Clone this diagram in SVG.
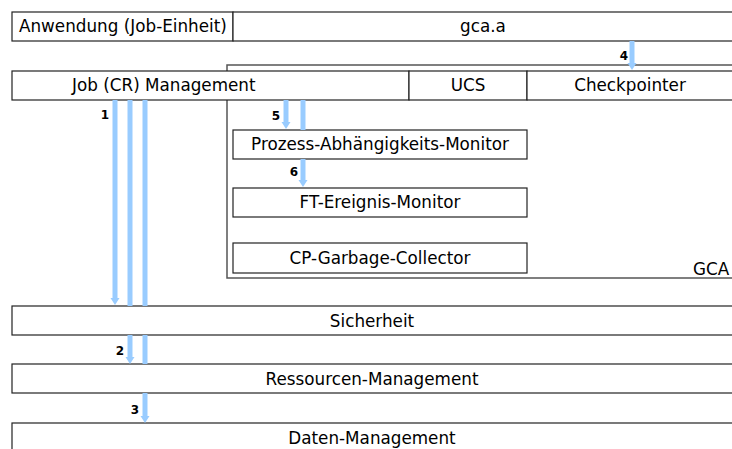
<svg xmlns="http://www.w3.org/2000/svg" width="732" height="449" viewBox="0 0 732 449">
<defs>
<style>
.box{fill:#fff;stroke:#222;stroke-width:1.2}
.gca{fill:none;stroke:#555;stroke-width:1.5}
.t{font-family:"DejaVu Sans",sans-serif;font-size:16.8px;fill:#000}
.c{text-anchor:middle}
.n{font-family:"DejaVu Sans",sans-serif;font-size:12px;font-weight:bold;fill:#000;text-anchor:middle}
.sh{stroke:#99ccff;stroke-width:5;fill:none}
.hd{fill:#99ccff}
</style>
</defs>
<rect width="732" height="449" fill="#fff"/>
<g id="gca-frame"><rect class="gca" x="227" y="65" width="520" height="213"/><text class="t" x="693" y="275">GCA</text></g>
<g id="anwendung"><rect class="box" x="12" y="12" width="221" height="29"/><text class="t" x="19" y="32">Anwendung (Job-Einheit)</text></g>
<g id="gca-a"><rect class="box" x="233" y="12" width="510" height="29"/><text class="t c" x="483" y="32">gca.a</text></g>
<g id="job"><rect class="box" x="12" y="71" width="397" height="29"/><text class="t" x="72" y="91">Job (CR) Management</text></g>
<g id="ucs"><rect class="box" x="409" y="71" width="118" height="29"/><text class="t c" x="468" y="91">UCS</text></g>
<g id="checkpointer"><rect class="box" x="527" y="71" width="216" height="29"/><text class="t c" x="630" y="91">Checkpointer</text></g>
<g id="pam"><rect class="box" x="233" y="130" width="294" height="29"/><text class="t c" x="380" y="150">Prozess-Abhängigkeits-Monitor</text></g>
<g id="ftem"><rect class="box" x="233" y="188" width="294" height="29"/><text class="t c" x="380" y="208">FT-Ereignis-Monitor</text></g>
<g id="cpgc"><rect class="box" x="233" y="243" width="294" height="30"/><text class="t c" x="380" y="264">CP-Garbage-Collector</text></g>
<g id="sicherheit"><rect class="box" x="12" y="306" width="731" height="29"/><text class="t c" x="372" y="327">Sicherheit</text></g>
<g id="ressourcen"><rect class="box" x="12" y="364" width="731" height="29"/><text class="t c" x="372" y="385">Ressourcen-Management</text></g>
<g id="daten"><rect class="box" x="12" y="423" width="731" height="40"/><text class="t c" x="372" y="444">Daten-Management</text></g>
<g id="connectors">
<line class="sh" x1="115" y1="100" x2="115" y2="299"/><path class="hd" d="M110.5 298 L119.5 298 L115 305 Z"/>
<line class="sh" x1="130" y1="100" x2="130" y2="306"/>
<line class="sh" x1="145" y1="100" x2="145" y2="306"/>
<text class="n" x="105" y="119">1</text>
<line class="sh" x1="130" y1="335" x2="130" y2="358"/><path class="hd" d="M125.5 357 L134.5 357 L130 364 Z"/>
<line class="sh" x1="145" y1="335" x2="145" y2="364"/>
<text class="n" x="120" y="355">2</text>
<line class="sh" x1="145" y1="393" x2="145" y2="417"/><path class="hd" d="M140.5 416 L149.5 416 L145 423 Z"/>
<text class="n" x="135" y="414">3</text>
<line class="sh" x1="632" y1="41" x2="632" y2="64"/><path class="hd" d="M627.5 63 L636.5 63 L632 70 Z"/>
<text class="n" x="624" y="60">4</text>
<line class="sh" x1="286" y1="100" x2="286" y2="123"/><path class="hd" d="M281.5 122 L290.5 122 L286 129 Z"/>
<line class="sh" x1="303" y1="100" x2="303" y2="130"/>
<text class="n" x="276" y="120">5</text>
<line class="sh" x1="303" y1="159" x2="303" y2="181"/><path class="hd" d="M298.5 180 L307.5 180 L303 187 Z"/>
<text class="n" x="294" y="176">6</text>
</g>
</svg>
